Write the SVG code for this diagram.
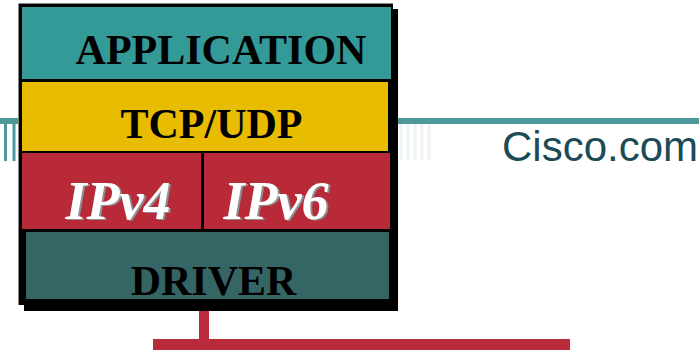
<svg xmlns="http://www.w3.org/2000/svg" width="699" height="352" viewBox="0 0 699 352">
<style>
.lbl{font-family:"Liberation Serif","Times New Roman",serif;font-weight:bold;font-size:42px;fill:#000;text-anchor:middle}
.ip{font-family:"Liberation Serif","Times New Roman",serif;font-weight:bold;font-style:italic;font-size:54px;text-anchor:middle;fill:#fff;filter:url(#sh)}
.tick{stroke:#4e979b;stroke-width:3}
.ftick{stroke:#eef3f3;stroke-width:3}
</style>
<defs>
<filter id="sh" x="-10%" y="-10%" width="130%" height="130%">
<feDropShadow dx="2" dy="1" stdDeviation="0.3" flood-color="#8e8e8e" flood-opacity="1"/>
</filter>
</defs>
<rect width="699" height="352" fill="#fff"/>
<g id="deco">
<rect x="0" y="118" width="699" height="6" fill="#4e979b"/>
<line class="tick" x1="5.5" y1="124" x2="5.5" y2="161"/>
<line class="tick" x1="14" y1="124" x2="14" y2="161"/>
<line class="ftick" x1="401" y1="124" x2="401" y2="160"/>
<line class="ftick" x1="408" y1="124" x2="408" y2="160"/>
<line class="ftick" x1="415" y1="124" x2="415" y2="160"/>
<line class="ftick" x1="422" y1="124" x2="422" y2="160"/>
<line class="ftick" x1="429" y1="124" x2="429" y2="160"/>
<text x="502" y="161" font-family="Liberation Sans, Arial, sans-serif" font-size="42" fill="#1c4a55">Cisco.com</text>
</g>
<g id="frame">
<rect x="24" y="9" width="374" height="302" fill="#000"/>
<rect x="19" y="4" width="374" height="301" fill="#000"/>
<line x1="18.5" y1="3.5" x2="393" y2="3.5" stroke="#888" stroke-width="1"/>
<line x1="18.5" y1="3.5" x2="18.5" y2="305" stroke="#888" stroke-width="1"/>
</g>
<g id="application">
<rect x="22" y="7" width="369" height="72" fill="#349a98"/>
<text class="lbl" x="221" y="64">APPLICATION</text>
</g>
<g id="tcpudp">
<rect x="22" y="82" width="366" height="69" fill="#e8bc00"/>
<text class="lbl" x="211.5" y="138">TCP/UDP</text>
</g>
<g id="ipv4">
<rect x="22" y="153" width="179" height="76" fill="#b82a38"/>
<text class="ip" x="118" y="219">IPv4</text>
</g>
<g id="ipv6">
<rect x="204" y="153" width="186" height="76" fill="#b82a38"/>
<text class="ip" x="276" y="219">IPv6</text>
</g>
<g id="driver">
<rect x="26" y="232" width="363" height="67" fill="#356665"/>
<text class="lbl" x="213.5" y="295">DRIVER</text>
</g>
<g id="connectors">
<rect x="199" y="311" width="10" height="34" fill="#b92b3a"/>
<rect x="153" y="339" width="417" height="11" fill="#b92b3a"/>
</g>
</svg>
